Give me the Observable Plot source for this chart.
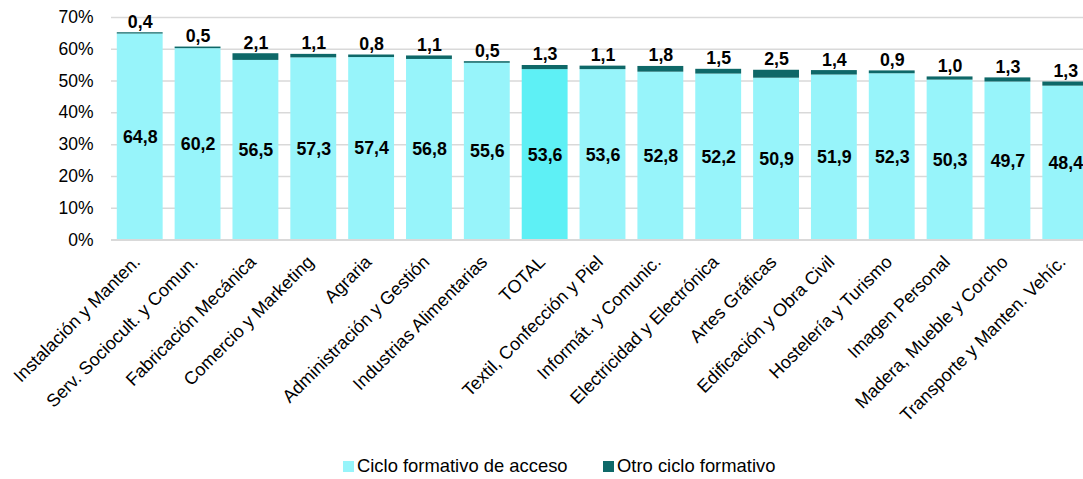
<!DOCTYPE html>
<html>
<head>
<meta charset="utf-8">
<script src="https://cdn.jsdelivr.net/npm/d3@7"></script>
<script src="https://cdn.jsdelivr.net/npm/@observablehq/plot@0.6"></script>
<style>
  html, body { margin: 0; padding: 0; background: #fff; overflow: hidden; }
  body { width: 1083px; height: 479px; font-family: Arial, "Liberation Sans", sans-serif; }
  #chart svg { overflow: hidden; display: block; }
  .legend { position: relative; height: 34px; font-size: 18.4px; color: #000; }
  .legend .item { position: absolute; top: 10px; display: flex; align-items: center; white-space: nowrap; }
  .legend .sw { width: 11px; height: 11px; margin-right: 3px; }
</style>
</head>
<body>
<div id="chart"></div>
<div class="legend" id="legend"></div>
<script>
const categories = [
  "Instalación y Manten.", "Serv. Sociocult. y Comun.", "Fabricación Mecánica",
  "Comercio y Marketing", "Agraria", "Administración y Gestión",
  "Industrias Alimentarias", "TOTAL", "Textil, Confección y Piel",
  "Informát. y Comunic.", "Electricidad y Electrónica", "Artes Gráficas",
  "Edificación y Obra Civil", "Hostelería y Turismo", "Imagen Personal",
  "Madera, Mueble y Corcho", "Transporte y Manten. Vehíc."
];
const acceso = [64.8, 60.2, 56.5, 57.3, 57.4, 56.8, 55.6, 53.6, 53.6, 52.8, 52.2, 50.9, 51.9, 52.3, 50.3, 49.7, 48.4];
const otro   = [0.4, 0.5, 2.1, 1.1, 0.8, 1.1, 0.5, 1.3, 1.1, 1.8, 1.5, 2.5, 1.4, 0.9, 1.0, 1.3, 1.3];
const yTicks = [0, 10, 20, 30, 40, 50, 60, 70];
const seriesNames = ["Ciclo formativo de acceso", "Otro ciclo formativo"];
const colors = {acceso: "#97F4FA", total: "#5EF0F5", otro: "#0E6868"};

const rows = categories.map((c, i) => ({cat: c, acceso: acceso[i], otro: otro[i]}));
const fmt = v => d3.format(".1f")(v).replace(".", ",");

const chart = Plot.plot({
  width: 1083,
  height: 445,
  marginLeft: 111,
  marginRight: 0,
  marginTop: 17,
  marginBottom: 205.5,
  style: {fontFamily: 'Arial, "Liberation Sans", sans-serif', background: "#fff", overflow: "hidden"},
  x: {domain: categories, range: [111, 1094], round: false, paddingInner: 0.207, paddingOuter: 0.1, axis: null},
  y: {domain: [0, 70], axis: null, label: null},
  color: {domain: ["acceso", "total", "otro"], range: [colors.acceso, colors.total, colors.otro]},
  marks: [
    Plot.gridY(yTicks, {stroke: "#d9d9d9", strokeOpacity: 1, strokeWidth: 1.5}),
    Plot.axisY(yTicks, {label: null, tickFormat: d => d + "%", tickSize: 0, tickPadding: 18, fontSize: 17.5, fill: "#000", color: "#000"}),
    Plot.barY(rows, {x: "cat", y1: 0, y2: "acceso", fill: d => d.cat === "TOTAL" ? "total" : "acceso"}),
    Plot.barY(rows, {x: "cat", y1: "acceso", y2: d => d.acceso + d.otro, fill: () => "otro"}),
    Plot.ruleY([0], {stroke: "#d9d9d9", strokeWidth: 2}),
    Plot.text(rows, {x: "cat", y: d => d.acceso / 2, text: d => fmt(d.acceso), fontSize: 17.8, fontWeight: "bold", fill: "#000"}),
    Plot.text(rows, {x: "cat", y: d => d.acceso + d.otro, text: d => fmt(d.otro), fontSize: 17.8, fontWeight: "bold", fill: "#000", lineAnchor: "bottom", dy: -5}),
    Plot.text(categories, {x: d => d, frameAnchor: "bottom", text: d => d, rotate: -45, textAnchor: "end", lineAnchor: "middle", dy: 19, dx: -3, fontSize: 18, fill: "#000"})
  ]
});
document.getElementById("chart").appendChild(chart);

const legend = document.getElementById("legend");
const legendItems = [
  {name: seriesNames[0], color: colors.acceso, left: 343},
  {name: seriesNames[1], color: colors.otro, left: 603}
];
for (const it of legendItems) {
  const el = document.createElement("div");
  el.className = "item";
  el.style.left = it.left + "px";
  el.innerHTML = `<span class="sw" style="background:${it.color}"></span><span>${it.name}</span>`;
  legend.appendChild(el);
}
</script>
</body>
</html>
